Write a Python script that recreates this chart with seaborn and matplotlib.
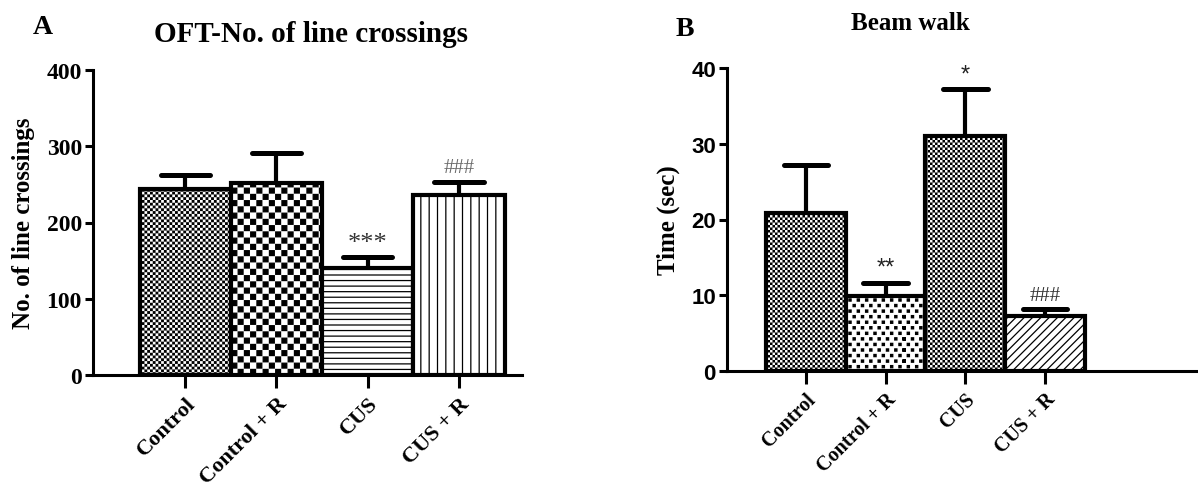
import numpy as np
import pandas as pd
import matplotlib
matplotlib.use("Agg")
import matplotlib.pyplot as plt
import matplotlib.hatch as mhatch
from matplotlib.path import Path
import seaborn as sns

# ---------------- data ----------------
groups = ["Control", "Control + R", "CUS", "CUS + R"]
oft_mean = [244, 252, 140, 236]
oft_err = [18, 39, 15, 17]
oft_marks = ["", "", "***", "###"]

beam_mean = [20.9, 9.9, 31.0, 7.2]
beam_err = [6.3, 1.7, 6.2, 1.0]
beam_marks = ["", "**", "*", "###"]

oft_ticks = [0, 100, 200, 300, 400]
beam_ticks = [0, 10, 20, 30, 40]

# ---------------- custom hatch textures ----------------
class Checker(mhatch.HatchPatternBase):
    def __init__(self, hatch, density, char, n, inset):
        cnt = hatch.count(char)
        self.n = n if cnt else 0
        self.inset = inset
        self.num_vertices = (self.n * self.n // 2) * 5 if self.n else 0

    def set_vertices_and_codes(self, vertices, codes):
        n = self.n
        s = 1.0 / n
        d = self.inset
        sq = np.array([[d, d], [s - d, d], [s - d, s - d], [d, s - d], [d, d]])
        sc = [Path.MOVETO, Path.LINETO, Path.LINETO, Path.LINETO, Path.CLOSEPOLY]
        k = 0
        for i in range(n):
            for j in range(n):
                if (i + j) % 2 == 0:
                    vertices[k:k + 5] = sq + [i * s, j * s]
                    codes[k:k + 5] = sc
                    k += 5


class Dots(mhatch.HatchPatternBase):
    def __init__(self, hatch, density, char, ncol, nrow, size):
        cnt = hatch.count(char)
        self.ncol, self.nrow, self.size = ncol, nrow, size
        self.num_vertices = (ncol + 1) * (nrow + 1) * 5 if cnt else 0

    def set_vertices_and_codes(self, vertices, codes):
        sx = 1.0 / self.ncol
        sy = 1.0 / self.nrow
        h = self.size / 2
        sq = np.array([[-h, -h], [h, -h], [h, h], [-h, h], [-h, -h]])
        sc = [Path.MOVETO, Path.LINETO, Path.LINETO, Path.LINETO, Path.CLOSEPOLY]
        k = 0
        for r in range(self.nrow + 1):
            off = (sx / 2) if r % 2 else 0.0
            for c in range(self.ncol + 1):
                x = (c * sx + off) % (1.0 + 1e-9)
                vertices[k:k + 5] = sq + [x, r * sy]
                codes[k:k + 5] = sc
                k += 5


mhatch._hatch_types[:] = [
    mhatch.HorizontalHatch,
    mhatch.VerticalHatch,
    mhatch.NorthEastHatch,
    mhatch.SouthEastHatch,
    lambda h, d: Checker(h, d, "o", 36, 0.006),
    lambda h, d: Checker(h, d, "O", 16, 0.007),
    lambda h, d: Checker(h, d, "*", 40, 0.006),
    lambda h, d: Dots(h, d, ".", 12, 18, 0.022),
]

# ---------------- style ----------------
sns.set_theme(style="ticks")
plt.rcParams["font.family"] = ["Liberation Serif", "DejaVu Serif"]
plt.rcParams["font.weight"] = "bold"
plt.rcParams["hatch.linewidth"] = 0.9
plt.rcParams["hatch.color"] = "black"
for k in ["text.color", "axes.labelcolor", "xtick.color", "ytick.color",
          "xtick.labelcolor", "ytick.labelcolor"]:
    plt.rcParams[k] = "black"

W, H = 1198, 489
fig = plt.figure(figsize=(W / 100, H / 100), dpi=100)


def px_axes(l, r, t, b):
    return fig.add_axes([l / W, 1 - b / H, (r - l) / W, (b - t) / H])


axA = px_axes(93, 522, 71, 376)
axB = px_axes(727, 1198, 69, 372)


def draw_panel(ax, means, errs, marks, hatches, ticks, xlim, capw, mark_sizes,
               mark_colors, mark_fonts, mark_offsets, xtick_fs):
    df = pd.DataFrame({"group": groups, "value": means})
    sns.barplot(data=df, x="group", y="value", ax=ax, color="white", saturation=1,
                width=1.0, errorbar=None, edgecolor="black", linewidth=3.0, zorder=2)
    for p, h in zip(ax.patches, hatches):
        p.set_hatch(h)
    xs = np.arange(len(groups))
    tops = np.array(means) + np.array(errs)
    ax.vlines(xs, means, tops, color="black", linewidth=3.0, zorder=1)
    ax.hlines(tops, xs - capw, xs + capw, color="black", linewidth=3.6,
              capstyle="round", zorder=3)
    for x, t, m, fs, c, fnt, off in zip(xs, tops, marks, mark_sizes, mark_colors,
                                         mark_fonts, mark_offsets):
        if m:
            ax.annotate(m, (x, t), xytext=(0, off), textcoords="offset points",
                        ha="center", va="bottom", fontsize=fs, color=c,
                        family=fnt, fontweight="normal")
    ax.set_xlim(*xlim)
    ax.set_ylim(ticks[0], ticks[-1])
    ax.set_yticks(ticks)
    ax.set_xlabel("")
    sns.despine(ax=ax)
    for s in ["left", "bottom"]:
        ax.spines[s].set_linewidth(2.2)
        ax.spines[s].set_color("black")
    ax.tick_params(axis="y", length=6, width=2.2, pad=2, colors="black")
    ax.tick_params(axis="x", length=9, width=2.2, pad=4, colors="black")
    ax.set_xticks(xs)
    ax.set_xticklabels(groups, rotation=45, ha="right", rotation_mode="anchor",
                       fontsize=xtick_fs, fontweight="bold", family="Liberation Serif")


draw_panel(axA, oft_mean, oft_err, oft_marks, ["oo", "O", "---", "||"], oft_ticks,
           (-1.01, 3.69), 0.27, [19, 19, 19, 15], ["#333333"] * 3 + ["#6a6a6a"],
           ["Liberation Serif"] * 4, [2, 2, 2, 4], 16)
axA.set_ylabel("No. of line crossings", fontsize=18, fontweight="bold", labelpad=8)
for lab in axA.get_yticklabels():
    lab.set_fontsize(17)
    lab.set_fontweight("bold")

draw_panel(axB, beam_mean, beam_err, beam_marks, ["*", ".", "*", "////"], beam_ticks,
           (-0.99, 4.92), 0.28, [17, 17, 17, 15], ["#222222", "#222222", "#222222", "#333333"],
           ["Liberation Sans", "Liberation Sans", "Liberation Sans", "Liberation Serif"],
           [3, 3, 3, 3], 14.5)
axB.set_ylabel("Time (sec)", fontsize=18, fontweight="bold", labelpad=8)
for lab in axB.get_yticklabels():
    lab.set_fontsize(16)
    lab.set_fontweight("bold")
    lab.set_family("Liberation Sans")

fig.text(43 / W, 1 - 27 / H, "A", fontsize=20, fontweight="bold", ha="center", va="center")
fig.text(311 / W, 1 - 34 / H, "OFT-No. of line crossings", fontsize=21, fontweight="bold",
         ha="center", va="center")
fig.text(685 / W, 1 - 29 / H, "B", fontsize=20, fontweight="bold", ha="center", va="center")
fig.text(910 / W, 1 - 24 / H, "Beam walk", fontsize=18, fontweight="bold",
         ha="center", va="center")

fig.savefig("out.png", dpi=100, facecolor="white")
